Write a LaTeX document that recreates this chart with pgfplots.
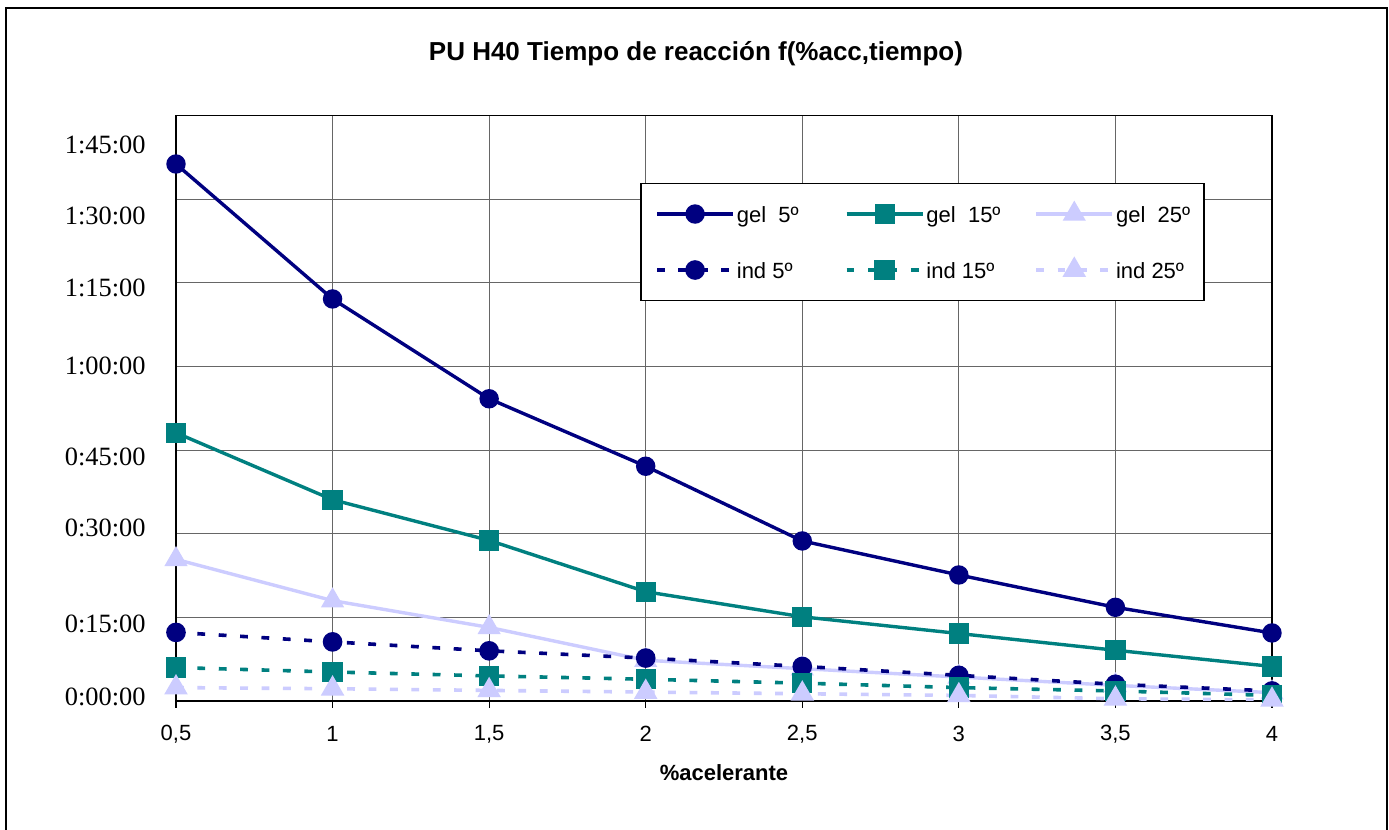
\documentclass[border=0pt]{standalone}
\usepackage{fontspec}
\setmainfont{Liberation Sans}
\newfontfamily\timesf{Liberation Serif}
\usepackage{pgfplots}
\pgfplotsset{compat=1.18}
\definecolor{cnavy}{HTML}{000080}
\definecolor{cteal}{HTML}{008080}
\definecolor{clav}{HTML}{CCCCFF}
\newcommand\lt[1]{\makebox[36pt][l]{\rule[-3pt]{0pt}{13pt}#1}}
\begin{document}
\begin{tikzpicture}
\useasboundingbox (-88pt,-64.5pt) rectangle (606.5pt,350.5pt);
\clip (-88pt,-64.5pt) rectangle (606.5pt,350.5pt);
\fill[white] (-88pt,-64.5pt) rectangle (606.5pt,350.5pt);
\draw[line width=1pt] (-84.75pt,-80pt) rectangle (605.3pt,346.35pt);
\node[font=\bfseries\fontsize{13}{15}\selectfont] at (260pt,323.5pt) {PU H40 Tiempo de reacción f(\%acc,tiempo)};
\begin{axis}[
  at={(0pt,0pt)}, anchor=south west,
  scale only axis, width=548pt, height=292.75pt,
  xmin=0.5, xmax=4, ymin=0, ymax=105,
  xtick={0.5,1,1.5,2,2.5,3,3.5,4},
  xticklabels={0{,}5,1,1{,}5,2,2{,}5,3,3{,}5,4},
  ytick={0,15,30,45,60,75,90,105},
  yticklabels={},
  extra y ticks={0.8,13.8,31.0,43.8,60.1,74.1,87.0,99.7},
  extra y tick labels={0:00:00,0:15:00,0:30:00,0:45:00,1:00:00,1:15:00,1:30:00,1:45:00},
  extra y tick style={grid=none, major tick length=0pt,
     yticklabel style={font=\timesf\fontsize{13.2}{15}\selectfont, anchor=east, inner sep=0pt, xshift=-15pt}},
  grid=major,
  major grid style={color=black!60, line width=0.5pt},
  axis line style={black, line width=0.8pt},
  tick align=outside, tick pos=left,
  major tick length=3.5pt,
  ytick style={draw=none},
  xtick style={black, line width=0.6pt},
  xticklabel style={font=\fontsize{11}{12}\selectfont, anchor=center, inner sep=0pt, yshift=-13pt},
  xlabel={\%acelerante},
  xlabel style={font=\bfseries\fontsize{11}{13}\selectfont, at={(axis description cs:0.5,0)}, anchor=center, yshift=-36pt},
  legend columns=3,
  legend image code/.code={\draw[mark repeat=2,mark phase=2,#1] plot coordinates {(0pt,0pt) (19pt,0pt) (38pt,0pt)};},
  legend style={at={(axis description cs:0.4238,0.8852)}, anchor=north west,
     draw=black, line width=0.8pt, inner xsep=7pt, inner ysep=9.5pt,
     font=\fontsize{11}{12}\selectfont, row sep=16.5pt,
     nodes={inner xsep=1pt, inner ysep=0pt},
     /tikz/every even column/.append style={column sep=17pt}},
  legend cell align=left,
]
\addplot[cnavy, line width=1.7pt, mark=*, mark size=4pt, mark options={solid}] coordinates {
 (0.5,96.3) (1,72.1) (1.5,54.2) (2,42.1) (2.5,28.7) (3,22.6) (3.5,16.8) (4,12.2)};
\addlegendentry{\lt{gel\ \ 5º}}
\addplot[cteal, line width=1.7pt, mark=square*, mark size=4.2pt, mark options={solid}] coordinates {
 (0.5,48.1) (1,36.1) (1.5,28.8) (2,19.6) (2.5,15.1) (3,12.1) (3.5,9.1) (4,6.2)};
\addlegendentry{\lt{gel\ \ 15º}}
\addplot[clav, line width=1.7pt, mark=triangle*, mark size=5pt, mark options={solid}] coordinates {
 (0.5,25.4) (1,18.0) (1.5,13.2) (2,7.3) (2.5,5.8) (3,4.3) (3.5,2.8) (4,1.5)};
\addlegendentry{\lt{gel\ \ 25º}}
\addplot[cnavy, line width=1.8pt, dash pattern=on 3.9pt off 6.8pt, mark=*, mark size=4pt, mark options={solid}] coordinates {
 (0.5,12.3) (1,10.6) (1.5,9.0) (2,7.7) (2.5,6.2) (3,4.6) (3.5,3.0) (4,1.8)};
\addlegendentry{\lt{ind 5º}}
\addplot[cteal, line width=1.8pt, dash pattern=on 3.9pt off 6.8pt, mark=square*, mark size=4.2pt, mark options={solid}] coordinates {
 (0.5,6.0) (1,5.2) (1.5,4.5) (2,3.9) (2.5,3.2) (3,2.4) (3.5,1.8) (4,1.0)};
\addlegendentry{\lt{ind 15º}}
\addplot[clav, line width=1.8pt, dash pattern=on 3.9pt off 6.8pt, mark=triangle*, mark size=5pt, mark options={solid}] coordinates {
 (0.5,2.4) (1,2.2) (1.5,1.9) (2,1.6) (2.5,1.3) (3,1.0) (3.5,0.4) (4,0.2)};
\addlegendentry{\lt{ind 25º}}
\end{axis}
\end{tikzpicture}
\end{document}
